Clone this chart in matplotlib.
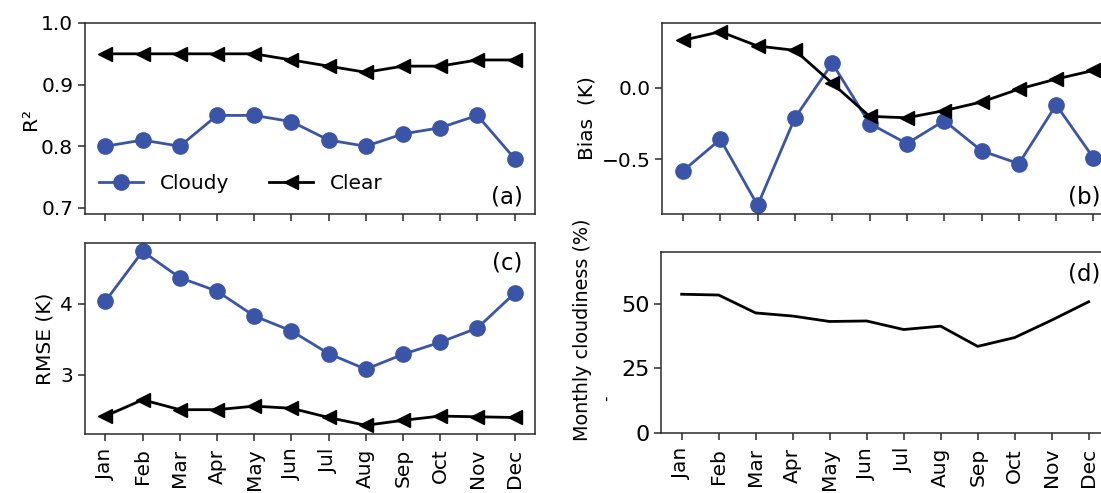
import matplotlib
matplotlib.use("Agg")
import matplotlib.pyplot as plt
import numpy as np

months = ["Jan", "Feb", "Mar", "Apr", "May", "Jun",
          "Jul", "Aug", "Sep", "Oct", "Nov", "Dec"]

r2_cloudy = [0.80, 0.81, 0.80, 0.85, 0.85, 0.84, 0.81, 0.80, 0.82, 0.83, 0.85, 0.78]
r2_clear = [0.95, 0.95, 0.95, 0.95, 0.95, 0.94, 0.93, 0.92, 0.93, 0.93, 0.94, 0.94]

bias_cloudy = [-0.58, -0.36, -0.82, -0.21, 0.17, -0.25, -0.39, -0.23, -0.44, -0.53, -0.12, -0.49]
bias_clear = [0.33, 0.39, 0.29, 0.26, 0.03, -0.20, -0.21, -0.16, -0.10, -0.01, 0.06, 0.12]

rmse_cloudy = [4.04, 4.74, 4.37, 4.18, 3.83, 3.62, 3.30, 3.08, 3.29, 3.46, 3.66, 4.15]
rmse_clear = [2.42, 2.65, 2.51, 2.51, 2.56, 2.53, 2.40, 2.29, 2.36, 2.42, 2.41, 2.40]

cloudiness = [53.6, 53.3, 46.4, 45.2, 43.1, 43.3, 40.0, 41.3, 33.5, 36.9, 43.6, 50.7]

BLUE = "#3a55a8"
W, H = 1101, 493
FS = 14.5
PANEL_FS = 16.5

plt.rcParams["font.family"] = "DejaVu Sans"
fig = plt.figure(figsize=(W / 100, H / 100), dpi=100)


def box(x0, x1, y0, y1):
    return [x0 / W, 1 - y1 / H, (x1 - x0) / W, (y1 - y0) / H]


ax_a = fig.add_axes(box(85, 535, 23, 214))
ax_b = fig.add_axes(box(662.5, 1114, 23, 214))
ax_c = fig.add_axes(box(85, 535, 242.7, 434))
ax_d = fig.add_axes(box(661.3, 1109, 251.7, 433.3))

x = np.arange(len(months))
cloudy_kw = dict(color=BLUE, marker="o", markersize=11, lw=2.0)
clear_kw = dict(color="black", marker="<", markersize=10.5, lw=2.0)


def style(ax):
    for s in ax.spines.values():
        s.set_color("#2a2a2a")
        s.set_linewidth(1.1)
    ax.tick_params(labelsize=FS, length=5, width=1.1, color="#2a2a2a")
    ax.tick_params(axis="x", pad=5.5)
    ax.set_xticks(x)


# (a) R squared
ax_a.plot(x, r2_cloudy, label="Cloudy", **cloudy_kw)
ax_a.plot(x, r2_clear, label="Clear", **clear_kw)
ax_a.set_ylim(0.69, 1.0)
ax_a.set_yticks([0.7, 0.8, 0.9, 1.0])
ax_a.set_ylabel("R²", fontsize=FS, labelpad=1)
style(ax_a)
ax_a.set_xticklabels([])
ax_a.legend(loc="center left", ncol=2, frameon=False, fontsize=FS,
            bbox_to_anchor=(0.0, 0.16), columnspacing=2.0, handlelength=2.2,
            handletextpad=0.8, borderaxespad=0.3)
ax_a.text(0.973, 0.03, "(a)", transform=ax_a.transAxes, ha="right", va="bottom",
          fontsize=PANEL_FS)

# (b) Bias
ax_b.plot(x, bias_cloudy, **cloudy_kw)
ax_b.plot(x, bias_clear, **clear_kw)
ax_b.set_yticks([-0.5, 0.0])
ax_b.set_ylabel("Bias  (K)", fontsize=FS)
style(ax_b)
ax_b.set_xticklabels([])
ax_b.text(0.969, 0.03, "(b)", transform=ax_b.transAxes, ha="right", va="bottom",
          fontsize=PANEL_FS)

# (c) RMSE
ax_c.plot(x, rmse_cloudy, **cloudy_kw)
ax_c.plot(x, rmse_clear, **clear_kw)
ax_c.set_yticks([3, 4])
ax_c.set_ylabel("RMSE (K)", fontsize=FS)
style(ax_c)
ax_c.set_xticklabels(months, rotation=90)
ax_c.text(0.973, 0.953, "(c)", transform=ax_c.transAxes, ha="right", va="top",
          fontsize=PANEL_FS)

# (d) Monthly cloudiness
ax_d.plot(x, cloudiness, color="black", lw=2.0)
ax_d.set_ylim(0, 70)
ax_d.set_yticks([0, 25, 50])
style(ax_d)
ax_d.tick_params(axis="y", labelsize=16)
ax_d.set_xticklabels(months, rotation=90, fontsize=FS)
ax_d.text(0.98, 0.943, "(d)", transform=ax_d.transAxes, ha="right", va="top",
          fontsize=PANEL_FS)
fig.text(582 / W, 1 - 330 / H, "Monthly cloudiness (%)", rotation=90,
         ha="center", va="center", fontsize=13.8)
fig.text(607 / W, 1 - 398 / H, "-", rotation=90, ha="center", va="center", fontsize=11)

fig.savefig("out.png", dpi=100)
